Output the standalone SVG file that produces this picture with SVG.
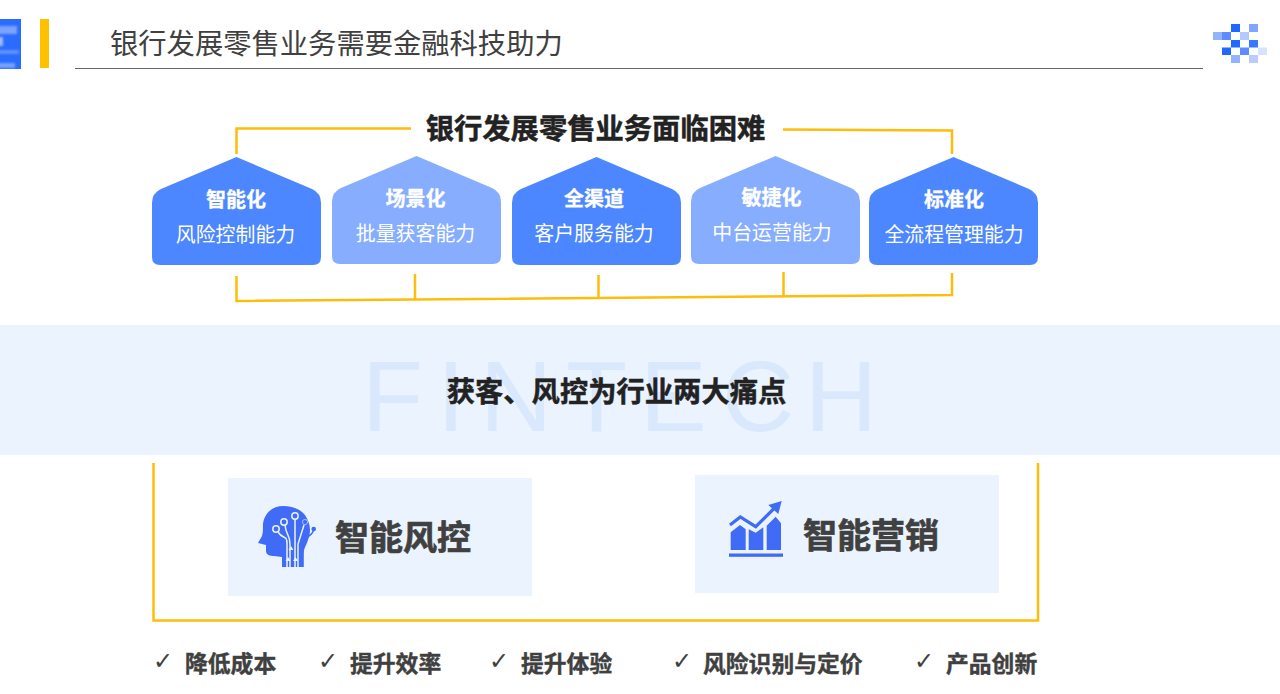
<svg xmlns="http://www.w3.org/2000/svg" width="1280" height="694" viewBox="0 0 1280 694">
<style>
text{font-family:"Noto Sans CJK SC","Liberation Sans",sans-serif}
.title{font-size:28.3px;fill:#404040}
.head{font-size:28.300px;font-weight:700;fill:#222;stroke:#222;stroke-width:.5;text-anchor:middle}
.nt{font-size:20px;font-weight:700;fill:#fff;stroke:#fff;stroke-width:.3;text-anchor:middle}
.ns{font-size:19.900px;fill:#fff;text-anchor:middle}
.big{font-size:34px;font-weight:700;fill:#404040;stroke:#404040;stroke-width:.7}
.lab{font-size:22.800px;font-weight:700;fill:#404040;stroke:#404040;stroke-width:.4}
.chk{font-family:"DejaVu Sans",sans-serif;font-size:24px;fill:#404040}
.fin{font-family:"Liberation Sans",sans-serif;font-size:100px;fill:#d9e8fc}
.dark{fill:#4d87ff}.light{fill:#87adff}
.con{fill:none;stroke:#fdbd0a;stroke-width:2.5}
.pan{fill:#eaf3fe}
.ic{fill:#3f6bf7}
.cir{fill:none;stroke:#eaf3fe;stroke-width:1.500}
</style>
<defs>
<path id="house" d="M84.500 0L160 32Q169 36 169 46L169 100Q169 108 161 108L8 108Q0 108 0 100L0 46Q0 36 9 32Z"/>
<filter id="soft" x="-10%" y="-10%" width="120%" height="120%"><feGaussianBlur stdDeviation="1"/></filter>
<clipPath id="clipLogo"><rect x="0" y="19" width="21" height="50"/></clipPath>
</defs>
<rect width="1280" height="694" fill="#fff"/>
<g id="header">
<g clip-path="url(#clipLogo)">
<rect x="0" y="19" width="21" height="50" fill="#2a6cff"/>
<g filter="url(#soft)">
<rect x="-3" y="26" width="20" height="8" fill="#7ba3ff"/>
<rect x="-3" y="37" width="6" height="9" fill="#9dbaff"/>
<rect x="-3" y="50" width="22" height="4" fill="#5f92ff"/>
<rect x="-3" y="63" width="18" height="5" fill="#78a0ff"/>
</g>
</g>
<rect x="40" y="19" width="9" height="49" fill="#ffc000"/>
<text class="title" x="110" y="54">银行发展零售业务需要金融科技助力</text>
<line x1="75" y1="68.500" x2="1203" y2="68.500" stroke="#666" stroke-width="1"/>
<g id="pixels">
<rect x="1231" y="24" width="9" height="8" fill="#2068ff"/>
<rect x="1249" y="24" width="9" height="8" fill="#82a6ff"/>
<rect x="1213" y="32" width="9" height="8" fill="#94b3ff"/>
<rect x="1222" y="32" width="9" height="8" fill="#5c8cff"/>
<rect x="1240" y="32" width="9" height="8" fill="#b3c9ff"/>
<rect x="1231" y="40" width="9" height="7.500" fill="#2068ff"/>
<rect x="1249" y="40" width="9" height="7.500" fill="#3a77ff"/>
<rect x="1222" y="47.500" width="9" height="7.500" fill="#2068ff"/>
<rect x="1240" y="47.500" width="9" height="7.500" fill="#5c8cff"/>
<rect x="1258" y="47.500" width="9" height="7.500" fill="#d6e3ff"/>
<rect x="1231" y="55" width="9" height="8" fill="#94b3ff"/>
<rect x="1249" y="55" width="9" height="8" fill="#b8ccff"/>
</g>
</g>
<text class="head" x="595.500" y="139">银行发展零售业务面临困难</text>
<g id="connectors">
<path class="con" d="M236.500 154V128.500H411"/>
<path class="con" d="M783 129.500L952 130.500V154"/>
<path class="con" d="M236.500 276V301L952 295V273"/>
<path class="con" d="M415 274V300M598.500 275V298.500M783.500 272V297"/>
<path class="con" d="M153.500 463V620.500H1038V463"/>
</g>
<g id="node-1"><use href="#house" x="152" y="157" class="dark"/><text class="nt" x="236" y="207">智能化</text><text class="ns" x="235.500" y="242">风险控制能力</text></g>
<g id="node-2"><use href="#house" x="332" y="156" class="light"/><text class="nt" x="415.500" y="206">场景化</text><text class="ns" x="415.500" y="241">批量获客能力</text></g>
<g id="node-3"><use href="#house" x="512" y="157" class="dark"/><text class="nt" x="594" y="206">全渠道</text><text class="ns" x="594" y="241">客户服务能力</text></g>
<g id="node-4"><use href="#house" x="691" y="156" class="light"/><text class="nt" x="771.500" y="205">敏捷化</text><text class="ns" x="772" y="240">中台运营能力</text></g>
<g id="node-5"><use href="#house" x="869" y="157" class="dark"/><text class="nt" x="954" y="207">标准化</text><text class="ns" x="954" y="242">全流程管理能力</text></g>
<g id="band">
<rect class="pan" x="0" y="325" width="1280" height="130"/>
<text class="fin" y="431" x="362 437 480 566 640 722 805">FINTECH</text>
<text class="head" x="616.500" y="402">获客、风控为行业两大痛点</text>
</g>
<g id="risk">
<rect class="pan" x="228" y="478" width="304" height="118"/>
<path class="ic" d="M283 506C272 506 264 514 263 524C263 530 263 533 262 536L258 543L266 545L266 551C266 555 270 556 274 556L282 557L282 567H303V556C303 550 306 546 308 540C311 532 311 524 305 515C300 509 292 506 283 506Z"/>
<g class="cir">
<circle cx="276" cy="529" r="3.200"/><circle cx="284" cy="522" r="3.200"/><circle cx="295" cy="516" r="3.200"/>
<path d="M278 532C283 540 287 534 287 544V567M285 525C286 536 290 534 290 544V567M295 519V567M304 525L298 544V567"/>
</g>
<path d="M285.500 561L288 557L290.500 561ZM293 561L295.500 557L298 561ZM288.500 550L291 546L293.500 550Z" fill="#eaf3fe"/>
<circle class="ic" cx="305" cy="522" r="2.600" stroke="#eaf3fe" stroke-width=".6"/>
<circle class="ic" cx="313.700" cy="529" r="2.300"/>
<path d="M313.700 529C313 538 304 534 303 545V567" fill="none" stroke="#3f6bf7" stroke-width="1.600"/>
<text class="big" x="335" y="550">智能风控</text>
</g>
<g id="marketing">
<rect class="pan" x="695" y="475" width="304" height="118"/>
<rect class="ic" x="729" y="553.500" width="54" height="3.300"/>
<path class="ic" d="M730.700 532.300L740 525L745.700 529.300V550H730.700Z"/>
<path class="ic" d="M748.700 529.300L755.700 532.700L763.300 527.300V550H748.700Z"/>
<path class="ic" d="M766.700 525.700L775.700 516.700L781 523.300V550H766.700Z"/>
<path d="M730 525L740.300 517L755.700 526.700L774 508.500" fill="none" stroke="#3f6bf7" stroke-width="3.200"/>
<path class="ic" d="M768.300 505L781.700 501L778.300 514Z"/>
<text class="big" x="803" y="548">智能营销</text>
</g>
<g id="benefits">
<text class="chk" x="153" y="669">✓</text><text class="lab" x="185" y="672">降低成本</text>
<text class="chk" x="318" y="669">✓</text><text class="lab" x="350" y="672">提升效率</text>
<text class="chk" x="489" y="669">✓</text><text class="lab" x="521" y="672">提升体验</text>
<text class="chk" x="672" y="669">✓</text><text class="lab" x="703" y="672">风险识别与定价</text>
<text class="chk" x="914" y="669">✓</text><text class="lab" x="946" y="672">产品创新</text>
</g>
</svg>
